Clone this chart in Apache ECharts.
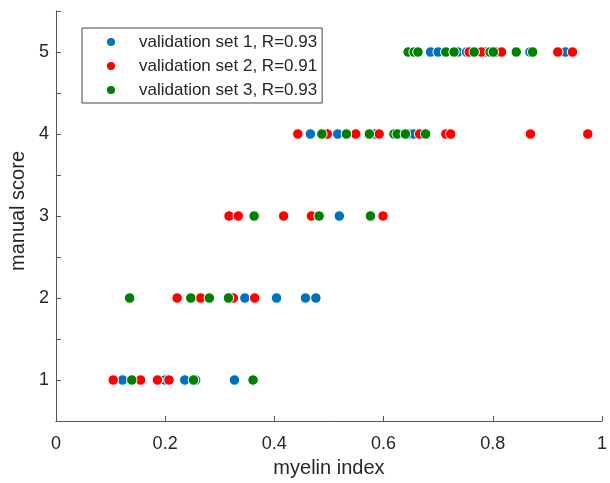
<!DOCTYPE html>
<html>
<head>
<meta charset="utf-8">
<script src="https://cdn.jsdelivr.net/npm/echarts@6/dist/echarts.min.js"></script>
<style>html,body{margin:0;padding:0;background:#fff;}#c{width:610px;height:483px;}</style>
</head>
<body>
<div id="c"></div>
<script>
// validation set 1 (blue)
const set1X = [0.686, 0.700, 0.736, 0.752, 0.786, 0.868, 0.933,
               0.466, 0.516, 0.584, 0.628, 0.647, 0.655,
               0.519,
               0.346, 0.404, 0.457, 0.476,
               0.122, 0.200, 0.236, 0.256, 0.327];
const set1Y = [5, 5, 5, 5, 5, 5, 5,
               4, 4, 4, 4, 4, 4,
               3,
               2, 2, 2, 2,
               1, 1, 1, 1, 1];
// validation set 2 (red)
const set2X = [0.757, 0.779, 0.806, 0.816, 0.919, 0.946,
               0.443, 0.497, 0.549, 0.592, 0.666, 0.714, 0.723, 0.869, 0.974,
               0.317, 0.334, 0.417, 0.468, 0.599,
               0.222, 0.265, 0.325, 0.364,
               0.105, 0.155, 0.186, 0.207];
const set2Y = [5, 5, 5, 5, 5, 5,
               4, 4, 4, 4, 4, 4, 4, 4, 4,
               3, 3, 3, 3, 3,
               2, 2, 2, 2,
               1, 1, 1, 1];
// validation set 3 (green)
const set3X = [0.645, 0.656, 0.663, 0.714, 0.729, 0.766, 0.795, 0.801, 0.843, 0.873,
               0.487, 0.532, 0.574, 0.619, 0.625, 0.640, 0.677,
               0.363, 0.482, 0.576,
               0.135, 0.247, 0.281, 0.316,
               0.139, 0.252, 0.361];
const set3Y = [5, 5, 5, 5, 5, 5, 5, 5, 5, 5,
               4, 4, 4, 4, 4, 4, 4,
               3, 3, 3,
               2, 2, 2, 2,
               1, 1, 1];
const seriesNames = ['validation set 1, R=0.93', 'validation set 2, R=0.91', 'validation set 3, R=0.93'];
const seriesColors = ['#0072BD', '#FF0000', '#008000'];
const xTicks = [0, 0.2, 0.4, 0.6, 0.8, 1];
const yTicks = [1, 2, 3, 4, 5];

const FONT = 'Liberation Sans, Arial, sans-serif';
const sets = [[set1X, set1Y], [set2X, set2Y], [set3X, set3Y]];

const chart = echarts.init(document.getElementById('c'), null, {renderer: 'canvas'});
chart.setOption({
  animation: false,
  backgroundColor: '#fff',
  grid: {left: 53.3, right: 3.3, top: 11, bottom: 58.6, containLabel: false},
  legend: {
    orient: 'vertical',
    left: 82, top: 28,
    padding: [4, 5, 3, 25],
    itemGap: 4,
    itemWidth: 8, itemHeight: 8,
    borderColor: '#444', borderWidth: 1,
    backgroundColor: '#fff',
    icon: 'circle',
    itemStyle: {borderWidth: 0},
    textStyle: {fontFamily: FONT, fontSize: 17, color: '#262626', lineHeight: 20, padding: [0, 0, 0, 19]},
    data: seriesNames
  },
  xAxis: {
    type: 'value', min: 0, max: 1, interval: 0.2,
    name: 'myelin index', nameLocation: 'middle', nameGap: 37,
    nameTextStyle: {fontFamily: FONT, fontSize: 20, color: '#262626'},
    axisLine: {show: true, lineStyle: {color: '#555', width: 1}},
    axisTick: {show: true, inside: true, length: 5, lineStyle: {color: '#555'}},
    axisLabel: {fontFamily: FONT, fontSize: 18, color: '#262626', margin: 14,
      formatter: v => { const t = xTicks.find(k => Math.abs(k - v) < 1e-9); return t === undefined ? '' : String(t); }},
    splitLine: {show: false}
  },
  yAxis: {
    type: 'value', min: 0.5, max: 5.5, interval: 0.5,
    name: 'manual score', nameLocation: 'middle', nameGap: 22,
    nameTextStyle: {fontFamily: FONT, fontSize: 20, color: '#262626', padding: [0, 0, 0, 10]},
    axisLine: {show: true, lineStyle: {color: '#555', width: 1}},
    axisTick: {show: true, inside: true, length: 5, lineStyle: {color: '#555'}},
    axisLabel: {fontFamily: FONT, fontSize: 18, color: '#262626', margin: 7,
      formatter: v => { const t = yTicks.find(k => Math.abs(k - v) < 1e-9); return t === undefined ? '' : String(t); }},
    splitLine: {show: false}
  },
  series: sets.map((s, i) => ({
    name: seriesNames[i],
    type: 'scatter',
    symbol: 'circle',
    symbolSize: 10.5,
    itemStyle: {color: seriesColors[i], borderColor: '#fff', borderWidth: 1, opacity: 1},
    emphasis: {disabled: true},
    data: s[0].map((x, j) => [x, s[1][j]])
  }))
});
</script>
</body>
</html>
